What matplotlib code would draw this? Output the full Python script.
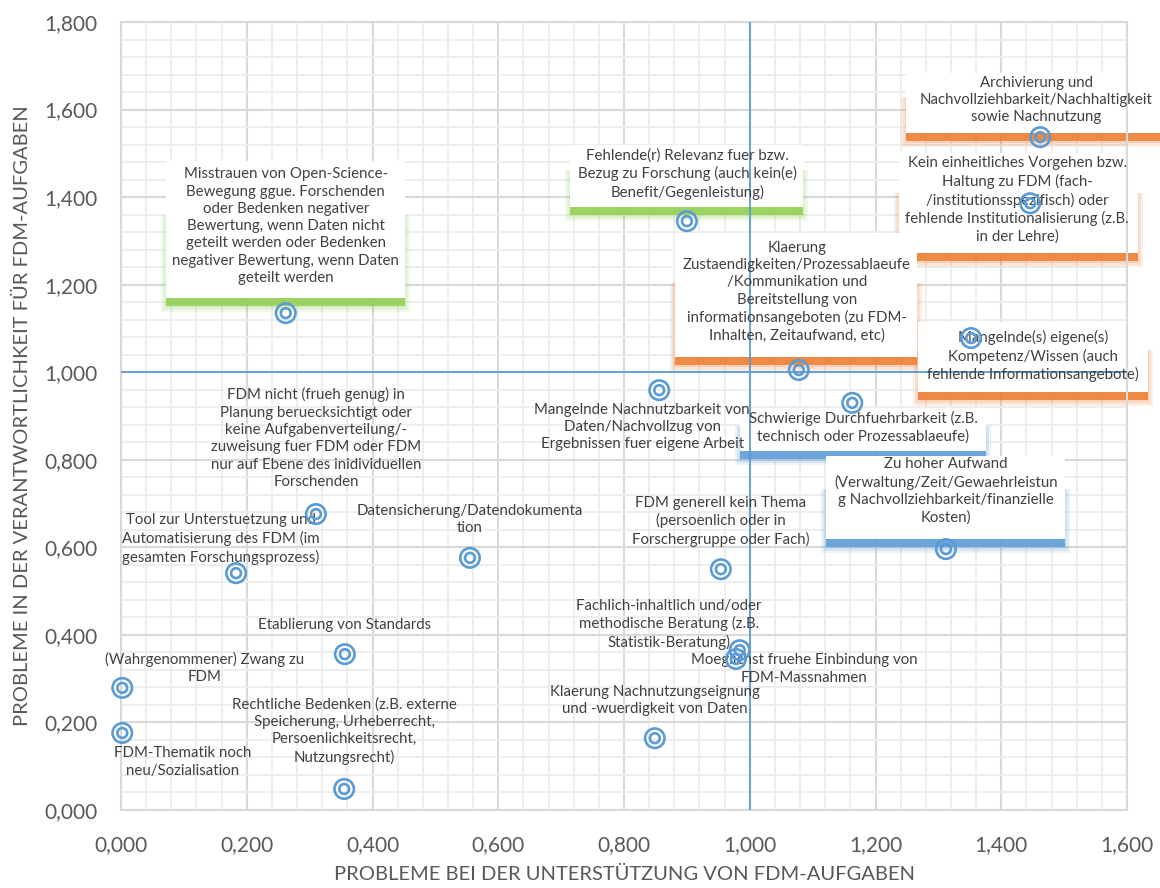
import matplotlib
matplotlib.use("Agg")
import matplotlib.pyplot as plt
from matplotlib.patches import Rectangle
from matplotlib.transforms import IdentityTransform
from matplotlib.ticker import MultipleLocator, FuncFormatter

plt.rcParams["font.family"] = ["Lato", "DejaVu Sans"]

# Problemfelder (Daten)
labels = [
    "Misstrauen von Open-Science-\nBewegung ggue. Forschenden\noder Bedenken negativer\nBewertung, wenn Daten nicht\ngeteilt werden oder Bedenken\nnegativer Bewertung, wenn Daten\ngeteilt werden",
    "Fehlende(r) Relevanz fuer bzw.\nBezug zu Forschung (auch kein(e)\nBenefit/Gegenleistung)",
    "Archivierung und\nNachvollziehbarkeit/Nachhaltigkeit\nsowie Nachnutzung",
    "Kein einheitliches Vorgehen bzw.\nHaltung zu FDM (fach-\n/institutionsspezifisch) oder\nfehlende Institutionalisierung (z.B.\nin der Lehre)",
    "Klaerung\nZustaendigkeiten/Prozessablaeufe\n/Kommunikation und\nBereitstellung von\ninformationsangeboten (zu FDM-\nInhalten, Zeitaufwand, etc)",
    "Mangelnde(s) eigene(s)\nKompetenz/Wissen (auch\nfehlende Informationsangebote)",
    "Mangelnde Nachnutzbarkeit von\nDaten/Nachvollzug von\nErgebnissen fuer eigene Arbeit",
    "Schwierige Durchfuehrbarkeit (z.B.\ntechnisch oder Prozessablaeufe)",
    "FDM nicht (frueh genug) in\nPlanung beruecksichtigt oder\nkeine Aufgabenverteilung/-\nzuweisung fuer FDM oder FDM\nnur auf Ebene des inidividuellen\nForschenden",
    "Tool zur Unterstuetzung und\nAutomatisierung des FDM (im\ngesamten Forschungsprozess)",
    "Datensicherung/Datendokumenta\ntion",
    "FDM generell kein Thema\n(persoenlich oder in\nForschergruppe oder Fach)",
    "Zu hoher Aufwand\n(Verwaltung/Zeit/Gewaehrleistun\ng Nachvollziehbarkeit/finanzielle\nKosten)",
    "Fachlich-inhaltlich und/oder\nmethodische Beratung (z.B.\nStatistik-Beratung)",
    "Moeglichst fruehe Einbindung von\nFDM-Massnahmen",
    "Etablierung von Standards",
    "(Wahrgenommener) Zwang zu\nFDM",
    "FDM-Thematik noch\nneu/Sozialisation",
    "Rechtliche Bedenken (z.B. externe\nSpeicherung, Urheberrecht,\nPersoenlichkeitsrecht,\nNutzungsrecht)",
    "Klaerung Nachnutzungseignung\nund -wuerdigkeit von Daten",
]
unterstuetzung = [0.262, 0.900, 1.462, 1.446, 1.078, 1.352, 0.856, 1.163, 0.310, 0.183,
                  0.555, 0.954, 1.312, 0.984, 0.978, 0.356, 0.002, 0.002, 0.355, 0.849]
verantwortung = [1.135, 1.345, 1.537, 1.386, 1.005, 1.078, 0.959, 0.930, 0.676, 0.541,
                 0.576, 0.550, 0.596, 0.365, 0.345, 0.356, 0.279, 0.176, 0.048, 0.164]
mittel_x = 1.0
mittel_y = 1.0

# Layout der Beschriftungen (Pixel-Versatz zum Punkt)
label_offsets = [(0, 87), (1, 47), (-4, 37), (-13, 3), (-2, 78), (62, -18), (-17, -37),
                 (11, -24), (0, 76), (-15, 34), (0, 38), (0, 48), (0, 58), (-71, 26),
                 (68, -10), (0, 29), (82, 20), (60, -29), (0, 58), (0, 38)]
# index: (dx, dy, breite, hoehe, farbe)
GREEN, ORANGE, BLUE = "#92d050", "#ed7d31", "#5b9bd5"
boxes = {
    0: (0, 84, 239, 137, GREEN),
    1: (0, 45, 233, 62, GREEN),
    2: (-4, 34, 260, 60, ORANGE),
    3: (-12, 0, 239, 100, ORANGE),
    4: (-3, 75, 242, 124, ORANGE),
    5: (62, -19, 230, 70, ORANGE),
    7: (11, -27, 246, 43, BLUE),
    12: (0, 52, 239, 83, BLUE),
}

fig = plt.figure(figsize=(11.6, 8.88), dpi=100)
ax = fig.add_axes([121 / 1160, 1 - 810 / 888, 1006 / 1160, 788 / 888])
ax.set_xlim(0, 1.6)
ax.set_ylim(0, 1.8)

fmt = FuncFormatter(lambda v, p: f"{v:.3f}".replace(".", ","))
ax.xaxis.set_major_locator(MultipleLocator(0.2))
ax.yaxis.set_major_locator(MultipleLocator(0.2))
ax.xaxis.set_minor_locator(MultipleLocator(0.04))
ax.yaxis.set_minor_locator(MultipleLocator(0.04))
ax.xaxis.set_major_formatter(fmt)
ax.yaxis.set_major_formatter(fmt)
ax.grid(which="major", color="#d9d9d9", lw=1.5)
ax.grid(which="minor", color="#ededed", lw=1.3)
ax.set_axisbelow(True)
ax.tick_params(which="both", length=0)
ax.tick_params(axis="x", pad=18, labelsize=15, labelcolor="#595959")
ax.tick_params(axis="y", pad=17, labelsize=15, labelcolor="#595959")
for s in ax.spines.values():
    s.set_color("#d9d9d9")
    s.set_linewidth(1.5)

ax.set_xlabel("PROBLEME BEI DER UNTERSTÜTZUNG VON FDM-AUFGABEN", fontsize=14.5, color="#595959")
ax.set_ylabel("PROBLEME IN DER VERANTWORTLICHKEIT FÜR FDM-AUFGABEN", fontsize=14.5, color="#595959")
ax.xaxis.set_label_coords(0.5, -0.071)
ax.yaxis.set_label_coords(-0.089, 0.5)

# Beschriftungsboxen mit farbigem, weichem Schatten
for i, (dx, dy, w, h, col) in boxes.items():
    px, py = ax.transData.transform((unterstuetzung[i], verantwortung[i]))
    cx, cy = px + dx, py + dy
    x0, y0 = cx - w / 2, cy - h / 2
    parts = []
    for k in (5, 3, 1):
        parts.append(Rectangle((x0 - k, y0 - 9 - k), w + 2 * k, h * 0.6 + 9 + k,
                               transform=IdentityTransform(), fc=col, ec="none",
                               alpha=0.12, zorder=2))
    parts.append(Rectangle((x0, y0 - 8), w, 9, transform=IdentityTransform(),
                           fc=col, ec="none", alpha=0.85, zorder=2.1))
    parts.append(Rectangle((x0, y0), w, h, transform=IdentityTransform(),
                           fc="white", ec="none", zorder=2.2))
    for r in parts:
        ax.add_artist(r)
        r.set_clip_on(False)

ax.axvline(mittel_x, color="#5b9bd5", lw=1.3, zorder=3)
ax.axhline(mittel_y, color="#5b9bd5", lw=1.3, zorder=3)

for lab, x, y, (dx, dy) in zip(labels, unterstuetzung, verantwortung, label_offsets):
    ax.annotate(lab, xy=(x, y), xytext=(dx, dy), textcoords="offset pixels",
                ha="center", va="center", fontsize=10.8, linespacing=1.3,
                color="#404040", zorder=4, annotation_clip=False)

ax.scatter(unterstuetzung, verantwortung, s=196, facecolors="none",
           edgecolors="#5b9bd5", linewidths=1.9, zorder=5, clip_on=False)
ax.scatter(unterstuetzung, verantwortung, s=50, facecolors="none",
           edgecolors="#5b9bd5", linewidths=1.9, zorder=5, clip_on=False)

fig.savefig("out.png", dpi=100)
